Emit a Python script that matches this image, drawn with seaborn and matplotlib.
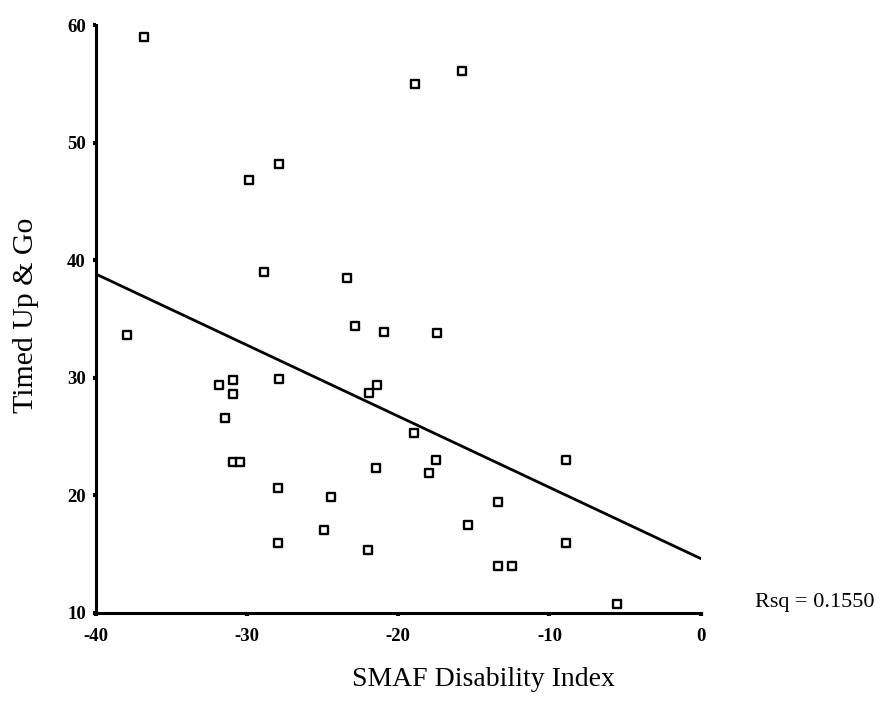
import matplotlib
matplotlib.use("Agg")
import matplotlib.pyplot as plt
import seaborn as sns
import pandas as pd

# SMAF disability index vs Timed Up & Go
smaf = [-36.8, -29.85, -27.86, -28.9, -23.36, -18.9, -15.8,
        -37.9, -22.88, -20.92, -17.43, -31.85, -30.92, -30.92, -27.9,
        -21.95, -21.4, -31.43, -18.95, -30.92, -30.44, -21.45, -17.48,
        -17.94, -27.95, -24.44, -13.4, -15.4, -24.88, -27.95, -21.97,
        -13.4, -12.5, -8.93, -8.93, -5.5]
tug = [59.0, 46.8, 48.2, 39.0, 38.5, 55.0, 56.1,
       33.6, 34.4, 33.9, 33.8, 29.4, 29.8, 28.6, 29.9,
       28.7, 29.4, 26.6, 25.3, 22.8, 22.8, 22.3, 23.0,
       21.9, 20.6, 19.8, 19.4, 17.5, 17.0, 15.9, 15.3,
       14.0, 14.0, 23.0, 15.9, 10.7]

x_ticks = [-40, -30, -20, -10, 0]
y_ticks = [10, 20, 30, 40, 50, 60]
rsq_label = "Rsq = 0.1550"

df = pd.DataFrame({"SMAF": smaf, "TUG": tug})

sns.set_style("ticks")
plt.rcParams["font.family"] = ["Liberation Serif", "DejaVu Serif"]
plt.rcParams["text.color"] = "black"
plt.rcParams["axes.labelcolor"] = "black"
plt.rcParams["xtick.color"] = "black"
plt.rcParams["ytick.color"] = "black"

fig = plt.figure(figsize=(8.81, 7.17), dpi=100)
ax = fig.add_axes([0.1086, 0.1455, 0.6867, 0.8196])
ax.set_xlim(-40, 0)
ax.set_ylim(10, 60)

# regression line across the whole x range, like SPSS draws it
sns.regplot(data=df, x="SMAF", y="TUG", ax=ax, ci=None, truncate=False,
            scatter=False, line_kws={"color": "black", "linewidth": 2.0})
sns.scatterplot(data=df, x="SMAF", y="TUG", ax=ax, marker="s", s=32,
                facecolor="white", edgecolor="black", linewidth=1.7, zorder=3)

ax.set_xticks(x_ticks)
ax.set_yticks(y_ticks)
ax.set_xticklabels([str(v) for v in x_ticks], fontsize=13.5, fontweight="bold")
ax.set_yticklabels([str(v) for v in y_ticks], fontsize=13.5, fontweight="bold")
ax.tick_params(axis="both", direction="out", length=2, width=3, color="black")
ax.tick_params(axis="x", pad=9)
ax.tick_params(axis="y", pad=5)

sns.despine(ax=ax)
for side in ["left", "bottom"]:
    ax.spines[side].set_linewidth(2.2)
    ax.spines[side].set_color("black")

ax.set_xlabel("SMAF Disability Index", fontsize=20)
ax.xaxis.set_label_coords(0.641, -0.092)
ax.set_ylabel("Timed Up & Go", fontsize=21.5)
ax.yaxis.set_label_coords(-0.094, 0.506)

ax.text(1.09, 0.017, rsq_label, transform=ax.transAxes, fontsize=16,
        ha="left", va="center")

fig.savefig("out.png", dpi=100)
